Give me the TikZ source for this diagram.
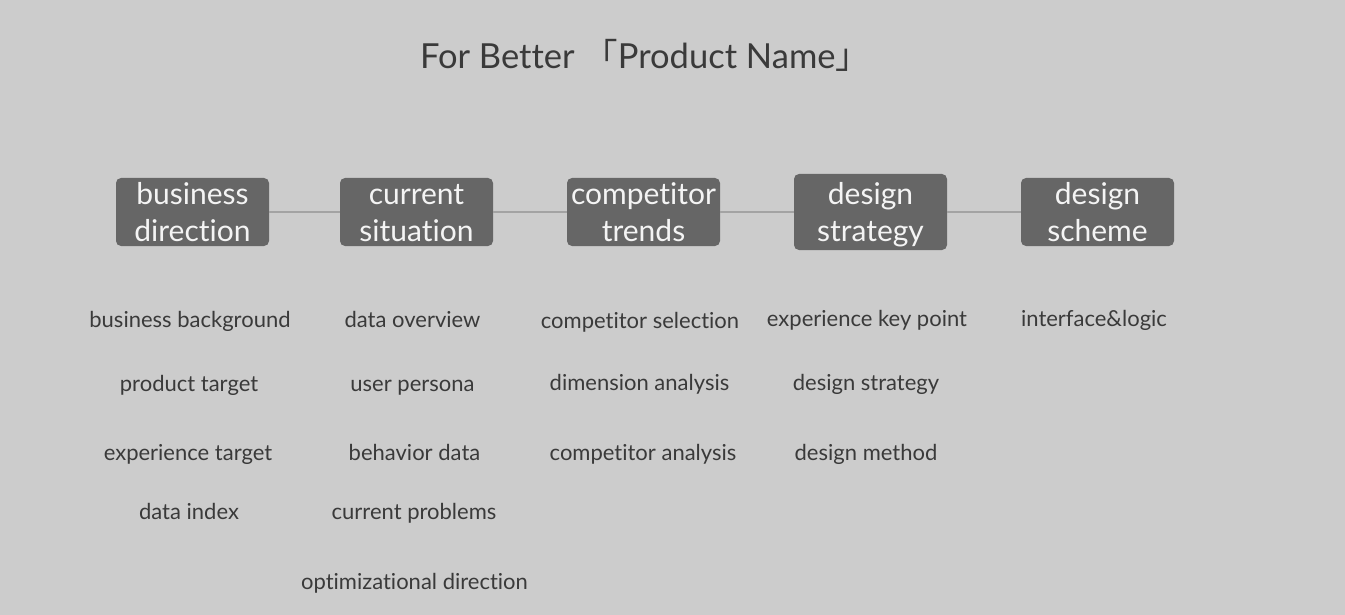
\documentclass[tikz,border=0pt]{standalone}
\usepackage{fontspec}
\setmainfont{Lato}[Ligatures={NoCommon,NoContextual}]
\newfontfamily\cjk{Noto Sans CJK SC}
\definecolor{fundo}{HTML}{CCCCCC}
\definecolor{caixa}{HTML}{666666}
\definecolor{textocaixa}{HTML}{F4F4F4}
\definecolor{textoitem}{HTML}{3A3A3A}
\definecolor{linha}{HTML}{A3A3A3}
\begin{document}
\begin{tikzpicture}[x=1pt, y=-1pt,
    etapa/.style={fill=caixa, rounded corners=5pt, text=textocaixa,
      minimum width=153pt, minimum height=68pt, inner sep=0pt,
      text height=59pt, text depth=0pt,
      align=center, font=\fontsize{30}{37}\selectfont},
    item/.style={text=textoitem, anchor=base, inner sep=0pt,
      font=\fontsize{22}{26}\selectfont},
    liga/.style={draw=linha, line width=1.6pt}]

      % fundo e moldura
      \fill[fundo] (0,0) rectangle (1345,615);

      % titulo
      \node[anchor=base, text=textoitem, inner sep=0pt,
            font=\fontsize{34.5}{40}\selectfont] (titulo) at (645,69)
            {For Better {\cjk 「}Product Name{\cjk 」}};

      % etapas
      \node[etapa] (negocio) at (192.5,212) {business\\direction};
      \node[etapa] (situacao) at (416.5,212) {current\\situation};
      \node[etapa] (concorrente) at (643.5,212) {competitor\\trends};
      \node[etapa, minimum height=76pt] (estrategia) at (870.5,212) {design\\strategy};
      \node[etapa] (esquema) at (1097.5,212) {design\\scheme};

      % ligacoes
      \draw[liga] (negocio.east) -- (situacao.west);
      \draw[liga] (situacao.east) -- (concorrente.west);
      \draw[liga] (concorrente.east) -- (estrategia.west);
      \draw[liga] (estrategia.east) -- (esquema.west);

      % itens: business direction
      \node[item] (negocio1) at (190,327) {business background};
      \node[item] (negocio2) at (189,391) {product target};
      \node[item] (negocio3) at (188,460.5) {experience target};
      \node[item] (negocio4) at (189,519.5) {data index};

      % itens: current situation
      \node[item] (situacao1) at (412.5,327) {data overview};
      \node[item] (situacao2) at (412.5,391) {user persona};
      \node[item] (situacao3) at (414.5,460.5) {behavior data};
      \node[item] (situacao4) at (414,519.5) {current problems};
      \node[item] (situacao5) at (414.5,589.5) {optimizational direction};

      % itens: competitor trends
      \node[item] (concorrente1) at (640,328) {competitor selection};
      \node[item] (concorrente2) at (639.5,390) {dimension analysis};
      \node[item] (concorrente3) at (643,460.5) {competitor analysis};

      % itens: design strategy
      \node[item] (estrategia1) at (867,326.5) {experience key point};
      \node[item] (estrategia2) at (866,390.5) {design strategy};
      \node[item] (estrategia3) at (866,460) {design method};

      % itens: design scheme
      \node[item] (esquema1) at (1094,326.5) {interface\&logic};
    \end{tikzpicture}
\end{document}
